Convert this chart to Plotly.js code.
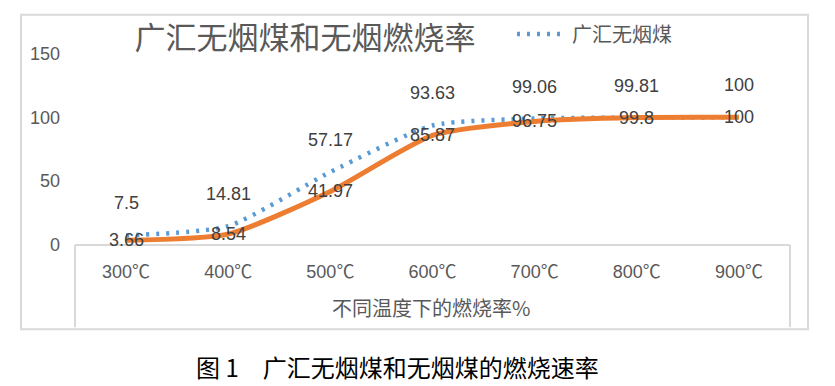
<!DOCTYPE html>
<html>
<head>
<meta charset="utf-8">
<script src="https://cdn.plot.ly/plotly-3.0.1.min.js"></script>
<style>html,body{margin:0;padding:0;background:#fff;}#chart{width:835px;height:386px;}</style>
</head>
<body>
<div id="chart"></div>
<script>
// ---- data ----
var categories = ["300℃", "400℃", "500℃", "600℃", "700℃", "800℃", "900℃"];
var seriesAName = "广汇无烟煤";
var seriesA = [7.5, 14.81, 57.17, 93.63, 99.06, 99.81, 100];
var seriesB = [3.66, 8.54, 41.97, 85.87, 96.75, 99.8, 100];
var yTicks = [0, 50, 100, 150];
var chartTitle = "广汇无烟煤和无烟燃烧率";
var xTitle = "不同温度下的燃烧率%";
var caption = "图 1　广汇无烟煤和无烟煤的燃烧速率";

// ---- layout geometry (pixels) ----
var W = 835, H = 386;
var mL = 75, mR = 45, mT = 52, mB = 141;
var pw = W - mL - mR, ph = H - mT - mB;
function px2x(p) { return (p - mL) / pw; }
function px2y(p) { return (H - mB - p) / ph; }

var numFont = "Liberation Sans, Arial, Noto Sans CJK SC, sans-serif";
var cjkFont = "Noto Sans CJK SC, sans-serif";

var traces = [
  {
    x: categories, y: seriesA, name: seriesAName, type: "scatter", mode: "lines",
    line: { color: "#5b9bd5", width: 4.5, dash: "3px,7px", shape: "spline", smoothing: 0.6 },
    showlegend: true, hoverinfo: "skip"
  },
  {
    x: categories, y: seriesB, name: "无烟煤", type: "scatter", mode: "lines",
    line: { color: "#ed7d31", width: 5, shape: "spline", smoothing: 0.6 },
    showlegend: false, hoverinfo: "skip"
  }
];

var annotations = [];
categories.forEach(function (c, i) {
  annotations.push({
    x: c, y: seriesA[i], xref: "x", yref: "y", text: String(seriesA[i]),
    showarrow: false, yshift: 32, font: { family: numFont, size: 18, color: "#404040" }
  });
  annotations.push({
    x: c, y: seriesB[i], xref: "x", yref: "y", text: String(seriesB[i]),
    showarrow: false, yshift: 0, font: { family: numFont, size: 18, color: "#404040" }
  });
});
annotations.push({
  x: px2x(431), y: px2y(308), xref: "paper", yref: "paper", text: xTitle, showarrow: false,
  xanchor: "center", yanchor: "middle", font: { family: cjkFont, size: 20, color: "#595959" }
});
annotations.push({
  x: px2x(194), y: px2y(367), xref: "paper", yref: "paper", text: caption, showarrow: false,
  xanchor: "left", yanchor: "middle", font: { family: cjkFont, size: 24, color: "#000000" }
});

var border = "#d9d9d9";
var shapes = [
  // outer chart border
  { type: "rect", xref: "paper", yref: "paper", x0: px2x(21), x1: px2x(808), y0: px2y(330), y1: px2y(13),
    line: { color: border, width: 2 }, layer: "below" },
  // category box
  { type: "line", xref: "paper", yref: "paper", x0: 0, x1: 1, y0: 0, y1: 0, line: { color: border, width: 2 } },
  { type: "line", xref: "paper", yref: "paper", x0: 0, x1: 0, y0: 0, y1: px2y(328), line: { color: border, width: 2 } },
  { type: "line", xref: "paper", yref: "paper", x0: 1, x1: 1, y0: 0, y1: px2y(328), line: { color: border, width: 2 } }
];

var layout = {
  width: W, height: H,
  margin: { l: mL, r: mR, t: mT, b: mB, pad: 0 },
  paper_bgcolor: "#ffffff", plot_bgcolor: "#ffffff",
  title: {
    text: chartTitle, x: 305 / W, xanchor: "center", y: 1 - 38 / H, yanchor: "middle",
    font: { family: cjkFont, size: 31, color: "#595959" }
  },
  showlegend: true,
  legend: {
    xref: "container", yref: "container", x: 512 / W, y: 1 - 34 / H, xanchor: "left", yanchor: "middle",
    orientation: "h", itemwidth: 50, font: { family: cjkFont, size: 20, color: "#595959" },
    bgcolor: "rgba(0,0,0,0)"
  },
  xaxis: {
    type: "category", range: [-0.5, categories.length - 0.5], showgrid: false, zeroline: false,
    showline: false, ticks: "",
    tickfont: { family: numFont, size: 18, color: "#595959" }, ticklabelstandoff: 14,
    fixedrange: true
  },
  yaxis: {
    range: [0, 150], tickvals: yTicks, ticktext: yTicks.map(String), showgrid: false, zeroline: false,
    showline: false, ticks: "", tickfont: { family: numFont, size: 18, color: "#595959" },
    ticklabelstandoff: 14, fixedrange: true
  },
  annotations: annotations,
  shapes: shapes
};

Plotly.newPlot("chart", traces, layout, { displayModeBar: false, staticPlot: true });
</script>
</body>
</html>
